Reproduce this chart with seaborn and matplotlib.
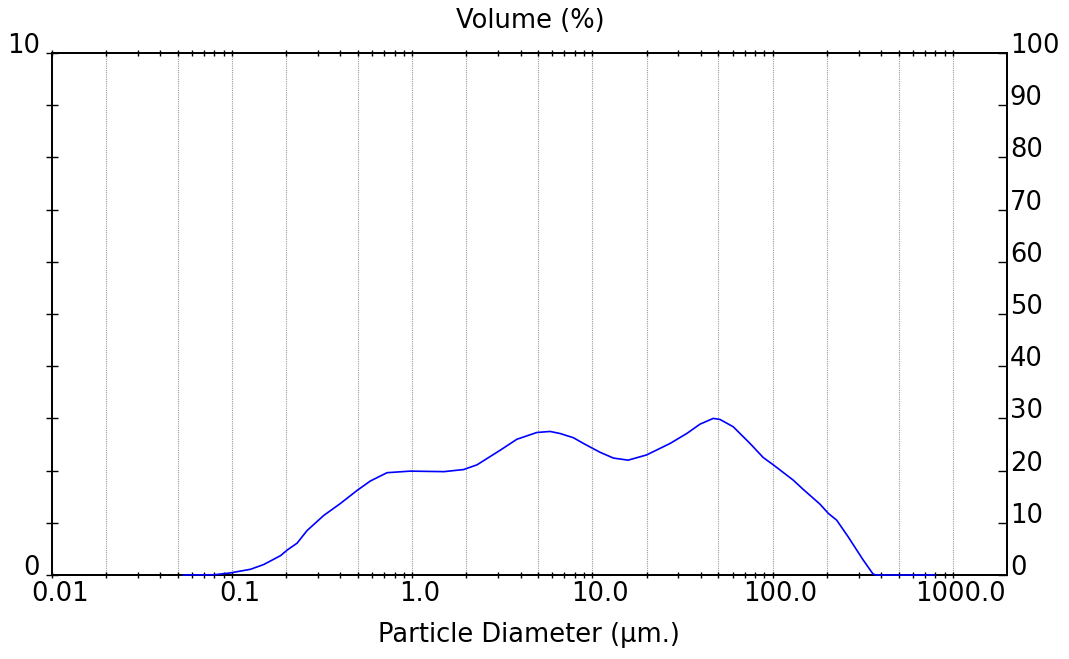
import matplotlib
matplotlib.use("Agg")
import matplotlib.pyplot as plt
import matplotlib.transforms as mtransforms
from matplotlib.ticker import FixedLocator, FixedFormatter, NullFormatter
import seaborn as sns
import pandas as pd

# ---- data ----
diameter_um = [0.0535, 0.08, 0.098, 0.127, 0.150, 0.186, 0.203, 0.230, 0.261, 0.323,
               0.400, 0.495, 0.586, 0.726, 0.977, 1.50, 1.93, 2.29, 3.08, 3.81,
               4.92, 5.83, 6.63, 7.85, 8.93, 11.05, 13.1, 15.8, 20.0, 27.0,
               33.4, 39.6, 46.9, 51.1, 60.5, 75.0, 88.8, 101, 130, 148,
               183, 204, 227, 263, 318, 361, 375, 794]
volume_pct = [0.0, 0.005, 0.04, 0.11, 0.20, 0.37, 0.48, 0.61, 0.85, 1.14,
              1.37, 1.62, 1.80, 1.96, 1.99, 1.98, 2.02, 2.11, 2.39, 2.60,
              2.73, 2.75, 2.71, 2.63, 2.52, 2.35, 2.24, 2.20, 2.30, 2.52,
              2.71, 2.89, 3.00, 2.98, 2.84, 2.52, 2.25, 2.11, 1.82, 1.64,
              1.36, 1.18, 1.05, 0.73, 0.29, 0.02, 0.0, 0.0]

x_major_ticks = [0.01, 0.02, 0.05, 0.1, 0.2, 0.5, 1, 2, 5, 10, 20, 50, 100, 200, 500, 1000]
x_major_labels = ["0.01", "", "", "0.1", "", "", "1.0", "", "", "10.0", "", "", "100.0", "", "", "1000.0"]
x_minor_ticks = [m * 10.0 ** e for e in range(-2, 3) for m in (3, 4, 6, 7, 8, 9)]
left_ticks = list(range(0, 11))
left_labels = ["0"] + [""] * 9 + ["10"]
right_ticks = list(range(0, 101, 10))
right_labels = [str(t) for t in right_ticks]

df = pd.DataFrame({"d": diameter_um, "v": volume_pct})

sns.set_style("white")
plt.rcParams["font.family"] = ["DejaVu Sans"]
plt.rcParams["text.color"] = "black"
plt.rcParams["xtick.color"] = "black"
plt.rcParams["ytick.color"] = "black"
plt.rcParams["axes.labelcolor"] = "black"
FS = 18.5

fig = plt.figure(figsize=(10.69, 6.59), dpi=100)
W, H = 1069, 659
ax = fig.add_axes([51.7 / W, 1 - 575 / H, (1007 - 51.7) / W, (575 - 53) / H])

sns.lineplot(data=df, x="d", y="v", ax=ax, color="#0000ff", linewidth=1.2,
             estimator=None, sort=False, zorder=5)
for ln in ax.lines:
    ln.set_clip_on(False)

ax.set_xscale("log")
ax.set_xlim(0.01, 2000)
ax.set_ylim(0, 10)
ax.xaxis.set_major_locator(FixedLocator(x_major_ticks))
ax.xaxis.set_major_formatter(FixedFormatter(x_major_labels))
ax.xaxis.set_minor_locator(FixedLocator(x_minor_ticks))
ax.xaxis.set_minor_formatter(NullFormatter())
ax.yaxis.set_major_locator(FixedLocator(left_ticks))
ax.yaxis.set_major_formatter(FixedFormatter(left_labels))
ax.set_xlabel("")
ax.set_ylabel("")

ax.grid(False)
ax.xaxis.grid(True, which="major", color="#999999", linestyle=(0, (1, 1)), linewidth=0.8)

ax.tick_params(axis="x", which="both", direction="inout", length=4.5, width=1.0,
               top=True, bottom=True, colors="black", labelsize=FS, pad=2)
ax.tick_params(axis="y", which="major", direction="inout", length=8.5, width=1.0,
               left=True, right=False, colors="black", labelsize=FS, pad=4)

for sp in ax.spines.values():
    sp.set_visible(True)
    sp.set_color("black")
    sp.set_linewidth(1.3)

ax2 = ax.twinx()
ax2.set_ylim(0, 100)
ax2.yaxis.set_major_locator(FixedLocator(right_ticks))
ax2.yaxis.set_major_formatter(FixedFormatter(right_labels))
ax2.tick_params(axis="y", which="major", direction="in", length=6.5, width=1.0,
                right=True, left=False, colors="black", labelsize=FS, pad=2)
ax2.grid(False)
for sp in ax2.spines.values():
    sp.set_color("black")
    sp.set_linewidth(1.3)
ax.set_zorder(ax2.get_zorder() + 1)
ax.patch.set_visible(False)

# text alignment like the reference: labels sit above their tick
for lab in ax.get_yticklabels():
    lab.set_verticalalignment("baseline")
for lab in ax2.get_yticklabels():
    lab.set_verticalalignment("baseline")
off = mtransforms.ScaledTranslation(8 / 100, 0, fig.dpi_scale_trans)
for lab in ax.get_xticklabels():
    lab.set_transform(lab.get_transform() + off)

fig.text(530 / W, 1 - 21 / H, "Volume (%)", ha="center", va="center", fontsize=FS)
fig.text(529 / W, 1 - 635 / H, "Particle Diameter (µm.)", ha="center", va="center", fontsize=FS)

fig.savefig("out.png", dpi=100, facecolor="white")
